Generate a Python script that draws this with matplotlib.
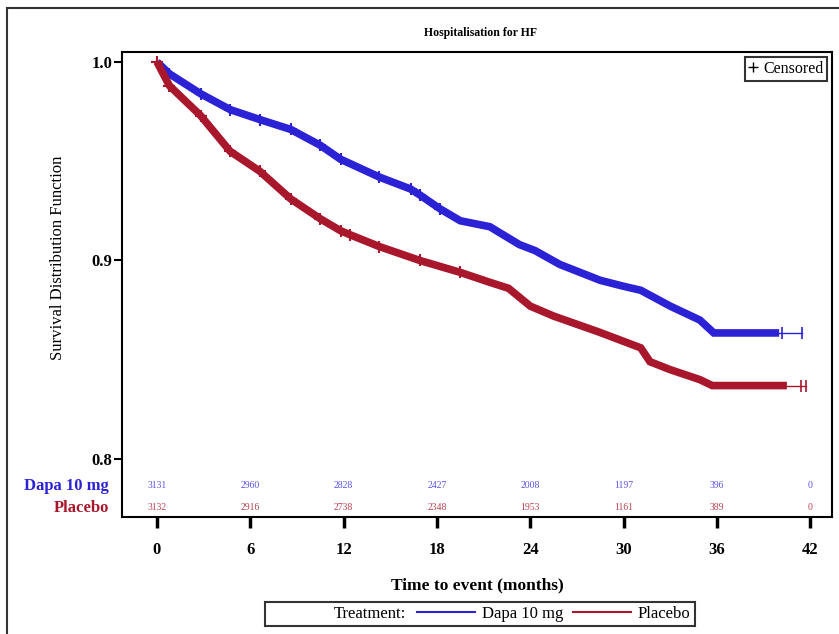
import matplotlib
matplotlib.use("Agg")
import matplotlib.pyplot as plt
from matplotlib.lines import Line2D
from matplotlib.patches import Rectangle

plt.rcParams['font.family'] = ['Liberation Serif', 'DejaVu Serif']

# ---- data ----
dapa_t = [0, 0.8, 2.8, 4.7, 6.6, 8.6, 10.5, 11.8, 14.3, 16.3, 16.9, 18.2, 19.5, 21.4,
          23.3, 24.3, 25.9, 28.5, 30.0, 31.1, 33.0, 34.9, 35.8, 40.0]
dapa_s = [1.0, 0.994, 0.984, 0.976, 0.971, 0.966, 0.958, 0.951, 0.942, 0.936, 0.933, 0.926,
          0.920, 0.917, 0.908, 0.905, 0.898, 0.890, 0.887, 0.885, 0.877, 0.870, 0.8635, 0.8635]
dapa_tail_t = [40.0, 40.2, 41.5]
dapa_tail_s = [0.8635, 0.8635, 0.8635]

plac_t = [0, 0.8, 2.8, 4.7, 6.6, 8.6, 10.5, 11.8, 12.4, 14.3, 16.9, 19.5, 21.4, 22.6,
          24.0, 25.5, 28.4, 31.1, 31.7, 33.0, 34.9, 35.7, 40.5]
plac_s = [1.0, 0.988, 0.973, 0.955, 0.945, 0.931, 0.921, 0.915, 0.913, 0.907, 0.900, 0.894,
          0.889, 0.886, 0.877, 0.872, 0.864, 0.856, 0.849, 0.845, 0.840, 0.837, 0.837]
plac_tail_t = [40.5, 41.4, 41.7]
plac_tail_s = [0.837, 0.837, 0.837]

risk_times = [0, 6, 12, 18, 24, 30, 36, 42]
dapa_risk = [3131, 2960, 2828, 2427, 2008, 1197, 396, 0]
plac_risk = [3132, 2916, 2738, 2348, 1953, 1161, 389, 0]

x_ticks = [0, 6, 12, 18, 24, 30, 36, 42]
y_ticks = [0.8, 0.9, 1.0]

blue = '#2B22D6'
red = '#A9172D'

fig = plt.figure(figsize=(8.39, 6.34), dpi=100)
ax = fig.add_axes([122/839, 1-517/634, (832-122)/839, (517-52)/634])

# main curves (thick band = dense censor marks)
ax.plot(dapa_t, dapa_s, color=blue, lw=5.5, solid_capstyle='butt', solid_joinstyle='miter')
ax.plot(dapa_t[:12], dapa_s[:12], linestyle='none', marker='+', ms=8, mew=1.5, color=blue)
ax.plot(dapa_tail_t, dapa_tail_s, color=blue, lw=1)
ax.plot(dapa_tail_t[1:], dapa_tail_s[1:], linestyle='none', marker='|', ms=8, mew=1.2, color=blue)

ax.plot(plac_t, plac_s, color=red, lw=5.5, solid_capstyle='butt', solid_joinstyle='miter')
ax.plot(plac_t[:12], plac_s[:12], linestyle='none', marker='+', ms=8, mew=1.5, color=red)
ax.plot(plac_tail_t, plac_tail_s, color=red, lw=1)
ax.plot(plac_tail_t[1:], plac_tail_s[1:], linestyle='none', marker='|', ms=8, mew=1.2, color=red)

ax.set_xlim(-2.25, 43.4)
ax.set_ylim(0.7708, 1.005)
ax.set_xticks(x_ticks)
ax.set_xticklabels([str(v) for v in x_ticks], fontsize=12, fontweight='bold')
ax.set_yticks(y_ticks)
ax.set_yticklabels(['%.1f' % v for v in y_ticks], fontsize=12, fontweight='bold')
ax.tick_params(axis='x', length=8, width=2.5, pad=10, direction='out')
ax.tick_params(axis='y', length=6, width=1.5, pad=1, direction='out')
for s in ax.spines.values():
    s.set_linewidth(1.5)

# risk table
for t, d, p in zip(risk_times, dapa_risk, plac_risk):
    ax.text(t, 0.7865, str(d), color='#5A55E6', fontsize=7, ha='center', va='center')
    ax.text(t, 0.7755, str(p), color='#B8404E', fontsize=7, ha='center', va='center')
ax.text(-3.1, 0.7865, 'Dapa 10 mg', color=blue, fontsize=12, fontweight='bold',
        ha='right', va='center', clip_on=False)
ax.text(-3.1, 0.7755, 'Placebo', color=red, fontsize=12, fontweight='bold',
        ha='right', va='center', clip_on=False)

ax.set_xlabel('Time to event (months)', fontsize=12.5, fontweight='bold', labelpad=14)
fig.text(58/839, 1-258/634, 'Survival Distribution Function', rotation=90,
         fontsize=12, ha='center', va='center')
fig.text(480/839, 1-33/634, 'Hospitalisation for HF', fontsize=8.5, fontweight='bold',
         ha='center', va='center')

# censored legend
cens = ax.legend([Line2D([], [], linestyle='none', marker='+', color='black', ms=7)],
                 ['Censored'], loc='upper right', frameon=True, fancybox=False,
                 handlelength=0.6, handletextpad=0.3, borderpad=0.25,
                 fontsize=11.5, borderaxespad=0.3)
cens.get_frame().set_edgecolor('black')
cens.get_frame().set_linewidth(1.5)

# bottom legend
handles = [Line2D([], [], linestyle='none'),
           Line2D([], [], color=blue, lw=1.5),
           Line2D([], [], color=red, lw=1.5)]
labels = ['Treatment:', 'Dapa 10 mg', 'Placebo']
leg = fig.legend(handles, labels, loc='center', bbox_to_anchor=(480/839, 1-614/634),
                 ncol=3, frameon=True, fancybox=False, fontsize=12,
                 handlelength=3.5, handletextpad=0.4, columnspacing=0.6, borderpad=0.25)
leg.get_frame().set_edgecolor('black')
leg.get_frame().set_linewidth(1.5)

# outer border (left/top visible)
fig.patches.append(Rectangle((7/839, -0.05), 1.2, 1-8/634+0.05, transform=fig.transFigure,
                             fill=False, edgecolor='#333333', lw=1.5, clip_on=False))

fig.savefig('out.png', dpi=100)
